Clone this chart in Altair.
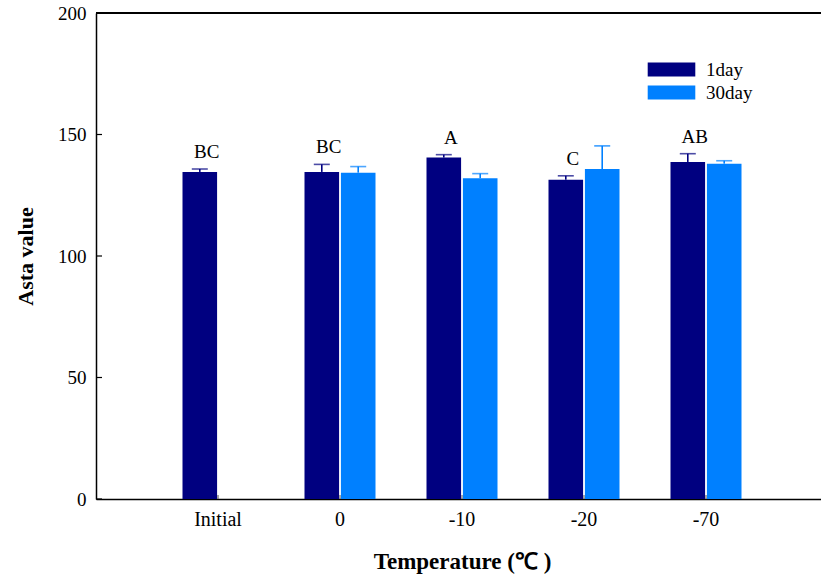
import altair as alt
import pandas as pd

# ---- data ----
categories = ["Initial", "0", "-10", "-20", "-70"]
series_names = ["1day", "30day"]
bar_temp = ["Initial", "0", "0", "-10", "-10", "-20", "-20", "-70", "-70"]
bar_series = ["1day", "1day", "30day", "1day", "30day", "1day", "30day", "1day", "30day"]
bar_value = [134.6, 134.6, 134.3, 140.5, 132.0, 131.4, 135.8, 138.7, 138.0]
bar_error = [1.2, 3.1, 2.5, 1.2, 1.9, 1.6, 9.5, 3.4, 1.2]
letter_temp = ["Initial", "0", "-10", "-20", "-70"]
letter_text = ["BC", "BC", "A", "C", "AB"]
y_ticks = [0, 50, 100, 150, 200]
colors = ["#000080", "#0080FF"]

df = pd.DataFrame({"temp": bar_temp, "series": bar_series,
                   "value": bar_value, "err": bar_error})
df["upper"] = df["value"] + df["err"]

lookup = {(t, s): u for t, s, u in zip(df["temp"], df["series"], df["upper"])}
df_letters = pd.DataFrame({"temp": letter_temp, "letter": letter_text,
                           "series": ["1day"] * len(letter_temp)})
df_letters["upper"] = [lookup[(t, "1day")] for t in letter_temp]

df_cats = pd.DataFrame({"temp": categories})
df_yt = pd.DataFrame({"tick": y_ticks})

FONT = "Liberation Serif"
W, H = 725, 486

xscale = alt.Scale(domain=categories, paddingInner=0.418, paddingOuter=0.709,
                   range=[0, 732])
xoff_scale = alt.Scale(domain=series_names, paddingInner=0.05, paddingOuter=0)
yscale = alt.Scale(domain=[0, 200], nice=False)
cscale = alt.Scale(domain=series_names, range=colors)

x_enc = alt.X("temp:N", scale=xscale, sort=categories,
              axis=alt.Axis(title="Temperature (℃ )", labelAngle=0, ticks=False,
                            labelPadding=10, labelFont=FONT, labelFontSize=20,
                            labelColor="black", titleFont=FONT, titleFontSize=23,
                            titleFontWeight="bold", titleColor="black",
                            titleY=69, titleBaseline="alphabetic",
                            domainColor="black", domainWidth=1.5, grid=False))
y_enc = alt.Y("value:Q", scale=yscale,
              axis=alt.Axis(title="Asta value", values=y_ticks, ticks=False,
                            labelPadding=10, labelFont=FONT, labelFontSize=19,
                            labelColor="black", titleFont=FONT, titleFontSize=22,
                            titleFontWeight="bold", titleColor="black",
                            titleX=-71, titleY=243, titleAngle=-90,
                            titleAlign="center", titleBaseline="middle",
                            domainColor="black", domainWidth=1.5, grid=False))

base = alt.Chart(df)

bars = base.mark_bar(stroke=None).encode(
    x=x_enc,
    xOffset=alt.XOffset("series:N", scale=xoff_scale),
    y=y_enc,
    color=alt.Color("series:N", scale=cscale, legend=alt.Legend(
        title=None, orient="none", legendX=566, legendY=47,
        symbolType="M-3.4,-1H3.4V1H-3.4Z", symbolSize=196,
        symbolStrokeWidth=0, symbolOpacity=1,
        labelFont=FONT, labelFontSize=19, labelColor="black",
        labelOffset=25, rowPadding=3, padding=0)),
)

err_rule = base.mark_rule(strokeWidth=1.6).encode(
    x=alt.X("temp:N", scale=xscale, sort=categories),
    xOffset=alt.XOffset("series:N", scale=xoff_scale),
    y=alt.Y("value:Q", scale=yscale),
    y2="upper:Q",
    color=alt.Color("series:N", scale=cscale, legend=None),
)

err_cap = base.mark_tick(orient="horizontal", size=16, thickness=1.6).encode(
    x=alt.X("temp:N", scale=xscale, sort=categories),
    xOffset=alt.XOffset("series:N", scale=xoff_scale),
    y=alt.Y("upper:Q", scale=yscale),
    color=alt.Color("series:N", scale=cscale, legend=None),
)

letters = alt.Chart(df_letters).mark_text(
    font=FONT, fontSize=19, color="black", baseline="alphabetic", dy=-11, dx=7
).encode(
    x=alt.X("temp:N", scale=xscale, sort=categories),
    xOffset=alt.XOffset("series:N", scale=xoff_scale),
    y=alt.Y("upper:Q", scale=yscale),
    text="letter:N",
)

x_ticks = alt.Chart(df_cats).mark_rule(color="#555555", strokeWidth=1).encode(
    x=alt.X("temp:N", scale=xscale, sort=categories),
    y=alt.value(H),
    y2=alt.value(H - 4),
)

y_tick_marks = alt.Chart(df_yt).mark_rule(color="black", strokeWidth=1.2).encode(
    y=alt.Y("tick:Q", scale=yscale),
    x=alt.value(0),
    x2=alt.value(6),
)

top_line = alt.Chart(df_yt).mark_rule(color="black", strokeWidth=1.5).encode(
    y=alt.datum(200),
    x=alt.value(0),
    x2=alt.value(W),
)

chart = alt.layer(bars, err_rule, err_cap, letters, x_ticks, y_tick_marks, top_line).properties(
    width=W, height=H,
    padding={"left": 96, "top": 13, "right": 0, "bottom": 78},
    autosize=alt.AutoSizeParams(type="none"),
    background="white",
).configure_view(stroke=None)

chart.save("out.html", embed_options={"renderer": "svg", "actions": False})
